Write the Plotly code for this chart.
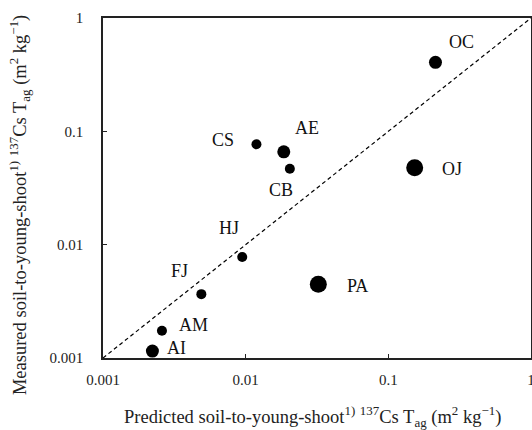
import math
import plotly.graph_objects as go

labels = ["OC", "CS", "AE", "CB", "OJ", "HJ", "FJ", "PA", "AM", "AI"]
predicted = [0.214, 0.0119, 0.0185, 0.0204, 0.153, 0.00946, 0.00489, 0.0323, 0.00259, 0.00222]
measured = [0.406, 0.0768, 0.066, 0.0468, 0.0477, 0.00778, 0.00366, 0.00447, 0.00174, 0.00115]
marker_sizes = [13, 10, 13, 10, 17, 10, 10, 17, 10, 13]
label_dx = [26, -33, 23, -9, 37, -13, -22, 39, 32, 24]
label_dy = [-20, -4, -24, 21, 1, -29, -23, 2, -6, -3]

tick_vals = [0.001, 0.01, 0.1, 1]
tick_text = ["0.001", "0.01", "0.1", "1"]
line_range = [0.001, 1]

FONT = "Liberation Serif, Times New Roman, serif"

fig = go.Figure()
fig.add_trace(go.Scatter(x=line_range, y=line_range, mode="lines",
                         line=dict(color="black", width=1.2, dash="4px,3px"),
                         hoverinfo="skip", showlegend=False, cliponaxis=False))
fig.add_trace(go.Scatter(x=predicted, y=measured, mode="markers",
                         marker=dict(color="black", opacity=1, size=marker_sizes, line=dict(width=0)),
                         showlegend=False, cliponaxis=False))

for lab, px, py, dx, dy in zip(labels, predicted, measured, label_dx, label_dy):
    fig.add_annotation(x=math.log10(px), y=math.log10(py), xref="x", yref="y", text=lab,
                       showarrow=False, xshift=dx, yshift=-dy,
                       font=dict(family=FONT, size=18, color="#111111"))

axis_common = dict(type="log", range=[-3, 0], tickvals=tick_vals, ticktext=tick_text,
                   showgrid=False, zeroline=False, showline=True, mirror=True,
                   linecolor="#222222", linewidth=1.5, ticks="inside", ticklen=4,
                   tickcolor="#222222", automargin=False, ticklabeloverflow="allow",
                   tickfont=dict(family=FONT, size=15, color="#222222"))

fig.update_xaxes(**axis_common, ticklabelstandoff=7)
fig.update_yaxes(**axis_common, ticklabelstandoff=15)

fig.add_annotation(xref="paper", yref="paper", x=0.49, y=-0.172, yanchor="middle",
                   text="Predicted soil-to-young-shoot<sup>1)</sup> <sup>137</sup>Cs T<sub>ag</sub> (m<sup>2</sup> kg<sup>−1</sup>)",
                   showarrow=False, font=dict(family=FONT, size=18.5, color="#222222"))
fig.add_annotation(xref="paper", yref="paper", x=-0.196, y=0.45, xanchor="center", yanchor="middle",
                   textangle=-90,
                   text="Measured soil-to-young-shoot<sup>1)</sup> <sup>137</sup>Cs T<sub>ag</sub> (m<sup>2</sup> kg<sup>−1</sup>)",
                   showarrow=False, font=dict(family=FONT, size=18.5, color="#222222"))

fig.update_layout(width=532, height=430, margin=dict(l=103, r=1, t=18, b=72, autoexpand=False),
                  paper_bgcolor="white", plot_bgcolor="white")

fig.write_html("out.html", config={"displayModeBar": False},
               post_script="document.body.style.margin='0px';")
